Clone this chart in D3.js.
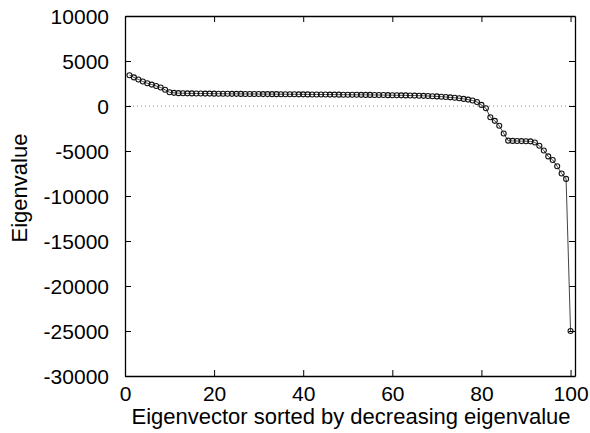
<!DOCTYPE html>
<meta charset="utf-8">
<style type="text/css">

body { margin: 0; background: #fff; }

text {
    font-family: "Liberation Sans", Arial, sans-serif;
    fill: #000;
}

.line {
    fill: none;
    stroke: #444;
    stroke-width: 1;
}

.dot {
    fill: none;
    stroke: #111;
    stroke-width: 1.1;
}

.zero {
    stroke: #888;
    stroke-width: 1;
    stroke-dasharray: 1,3;
}

</style>
<body>
</body>

<script src="https://d3js.org/d3.v7.min.js"></script>
<script>

var xTicks = [0, 20, 40, 60, 80, 100];
var yTicks = [10000, 5000, 0, -5000, -10000, -15000, -20000, -25000, -30000];

// eigenvalues, sorted from largest to smallest (index 1..100)
var eigenvalues = [
  3420, 3180, 2950, 2720, 2530, 2380, 2230, 2050, 1800, 1520,
  1460, 1430, 1415, 1405, 1400, 1392, 1386, 1380, 1376, 1370,
  1366, 1362, 1358, 1352, 1348, 1344, 1340, 1336, 1332, 1328,
  1325, 1320, 1318, 1314, 1310, 1306, 1302, 1298, 1295, 1292,
  1288, 1284, 1280, 1276, 1272, 1268, 1264, 1260, 1256, 1252,
  1248, 1244, 1240, 1236, 1232, 1226, 1220, 1214, 1208, 1200,
  1192, 1184, 1176, 1168, 1158, 1145, 1130, 1112, 1090, 1065,
  1035, 1000, 960, 915, 860, 790, 710, 610, 450, 120,
  -250, -1250, -1650, -2200, -3050, -3850, -3880, -3890, -3900, -3910,
  -3930, -4050, -4420, -4950, -5600, -6000, -6700, -7500, -8100, -25000
];

var dataset = eigenvalues.map(function(v, i) { return {x: i + 1, y: v}; });

var width = 590, height = 433;
var margin = {left: 125, right: 15, top: 16, bottom: 57};
var w = width - margin.left - margin.right,
    h = height - margin.top - margin.bottom;

var xScale = d3.scaleLinear()
    .domain([0, 101])
    .range([0, w]);

var yScale = d3.scaleLinear()
    .domain([-30000, 10000])
    .range([h, 0]);

var plain = function(d) { return String(d); };

var svg = d3.select("body").append("svg")
    .attr("width", width)
    .attr("height", height)
  .append("g")
    .attr("transform", "translate(" + margin.left + "," + margin.top + ")");

// zero axis, dotted
svg.append("line")
    .attr("class", "zero")
    .attr("x1", 0).attr("x2", w)
    .attr("y1", yScale(0)).attr("y2", yScale(0));

// bottom axis, ticks pointing in
var xAxis = svg.append("g")
    .attr("transform", "translate(0," + h + ")")
    .call(d3.axisBottom(xScale).tickValues(xTicks).tickFormat(plain)
        .tickSizeInner(-6).tickSizeOuter(0).tickPadding(14));

var yAxis = svg.append("g")
    .call(d3.axisLeft(yScale).tickValues(yTicks).tickFormat(plain)
        .tickSizeInner(-6).tickSizeOuter(0).tickPadding(16));

// mirror ticks on top and right
svg.append("g")
    .call(d3.axisTop(xScale).tickValues(xTicks).tickSizeInner(-6).tickSizeOuter(0).tickFormat(""));

svg.append("g")
    .attr("transform", "translate(" + w + ",0)")
    .call(d3.axisRight(yScale).tickValues(yTicks).tickSizeInner(-6).tickSizeOuter(0).tickFormat(""));

svg.selectAll(".domain").attr("stroke", "#000").attr("stroke-width", 1.3);
svg.selectAll(".tick line").attr("stroke", "#000");

xAxis.selectAll("text").style("font-size", "21px").attr("dy", "0.5em");
yAxis.selectAll("text").style("font-size", "21px").attr("dy", "0.36em");

svg.append("path")
    .datum(dataset)
    .attr("class", "line")
    .attr("d", d3.line()
        .x(function(d) { return xScale(d.x); })
        .y(function(d) { return yScale(d.y); }));

svg.selectAll(".dot")
    .data(dataset)
  .enter().append("circle")
    .attr("class", "dot")
    .attr("cx", function(d) { return xScale(d.x); })
    .attr("cy", function(d) { return yScale(d.y); })
    .attr("r", 2.5);

svg.append("text")
    .attr("x", w / 2 + 1)
    .attr("y", h + 48)
    .attr("text-anchor", "middle")
    .style("font-size", "22px")
    .text("Eigenvector sorted by decreasing eigenvalue");

svg.append("text")
    .attr("transform", "translate(" + (-98) + "," + (h / 2 - 8) + ") rotate(-90)")
    .attr("text-anchor", "middle")
    .style("font-size", "22px")
    .text("Eigenvalue");

</script>
